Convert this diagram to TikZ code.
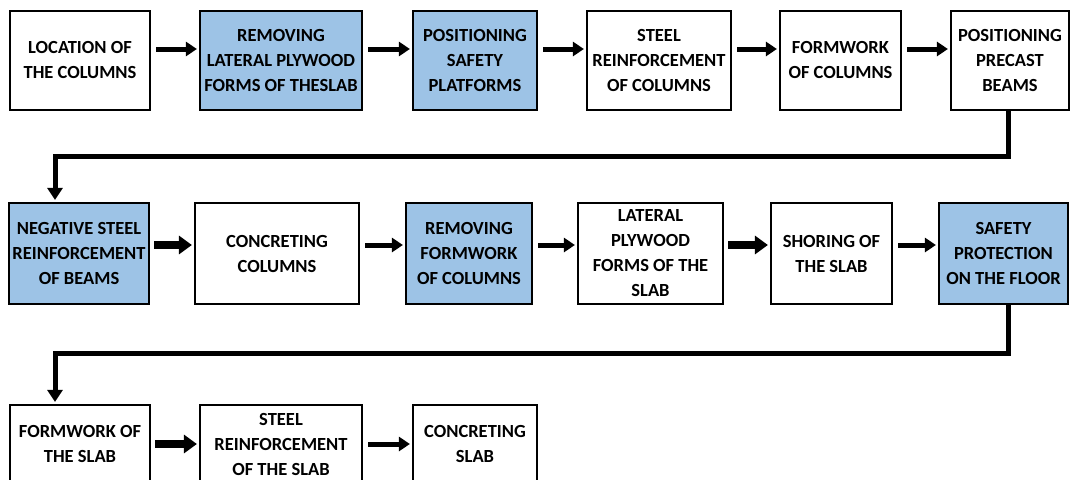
\documentclass[tikz,border=0pt]{standalone}
\usepackage{fontspec}
\setmainfont{Carlito}
\usetikzlibrary{arrows.meta}
\definecolor{boxblue}{RGB}{157,195,230}
\begin{document}
\begin{tikzpicture}[x=1pt,y=-1pt,
  box/.style={draw, line width=2.2pt, align=center, inner sep=0pt,
    font=\bfseries\fontsize{18.5}{25}\selectfont, text=black},
  hl/.style={fill=boxblue},
  arr/.style={line width=5pt, -{Triangle[width=14pt,length=11pt]}, shorten <=5pt, shorten >=2pt},
  arrthick/.style={line width=8pt, -{Triangle[width=18pt,length=13pt]}, shorten <=4pt, shorten >=2pt},
  wrap/.style={line width=5pt, line join=miter, -{Triangle[width=15pt,length=12pt]}, shorten >=2pt}
]
\useasboundingbox (0,0) rectangle (1073,479);
\clip (0,0) rectangle (1073,479);
% row 1
\node[box, minimum width=140pt, minimum height=99pt] (b1) at (80,60.5) {LOCATION OF\\THE COLUMNS};
\node[box, hl, minimum width=162pt, minimum height=99pt] (b2) at (281,60.5) {REMOVING\\LATERAL PLYWOOD\\FORMS OF THESLAB};
\node[box, hl, minimum width=124pt, minimum height=99pt] (b3) at (475,60.5) {POSITIONING\\SAFETY\\PLATFORMS};
\node[box, minimum width=144pt, minimum height=99pt] (b4) at (659,60.5) {STEEL\\REINFORCEMENT\\OF COLUMNS};
\node[box, minimum width=121pt, minimum height=99pt] (b5) at (840.5,60.5) {FORMWORK\\OF COLUMNS};
\node[box, minimum width=118pt, minimum height=99pt] (b6) at (1010,60.5) {POSITIONING\\PRECAST\\BEAMS};
% row 2
\node[box, hl, minimum width=140pt, minimum height=101pt] (b7) at (79,253.5) {NEGATIVE STEEL\\REINFORCEMENT\\OF BEAMS};
\node[box, minimum width=164pt, minimum height=101pt] (b8) at (277,253.5) {CONCRETING\\COLUMNS};
\node[box, hl, minimum width=126pt, minimum height=101pt] (b9) at (469,253.5) {REMOVING\\FORMWORK\\OF COLUMNS};
\node[box, minimum width=145pt, minimum height=101pt] (b10) at (650.5,253.5) {LATERAL\\PLYWOOD\\FORMS OF THE\\SLAB};
\node[box, minimum width=121pt, minimum height=101pt] (b11) at (831.5,253.5) {SHORING OF\\THE SLAB};
\node[box, hl, minimum width=129pt, minimum height=101pt] (b12) at (1003.5,253.5) {SAFETY\\PROTECTION\\ON THE FLOOR};
% row 3
\node[box, minimum width=140pt, minimum height=78pt] (b13) at (80,444) {FORMWORK OF\\THE SLAB};
\node[box, minimum width=162pt, minimum height=78pt] (b14) at (281,444) {STEEL\\REINFORCEMENT\\OF THE SLAB};
\node[box, minimum width=124pt, minimum height=78pt] (b15) at (475,444) {CONCRETING\\SLAB};
% row 1 arrows
\draw[arr] ([yshift=11.5pt]b1.east) -- ([yshift=11.5pt]b2.west);
\draw[arr] ([yshift=11.5pt]b2.east) -- ([yshift=11.5pt]b3.west);
\draw[arr] ([yshift=11.5pt]b3.east) -- ([yshift=11.5pt]b4.west);
\draw[arr] ([yshift=11.5pt]b4.east) -- ([yshift=11.5pt]b5.west);
\draw[arr] ([yshift=11.5pt]b5.east) -- ([yshift=11.5pt]b6.west);
% row 2 arrows
\draw[arrthick] ([yshift=8.5pt]b7.east) -- ([yshift=8.5pt]b8.west);
\draw[arr] ([yshift=8.5pt]b8.east) -- ([yshift=8.5pt]b9.west);
\draw[arr] ([yshift=8.5pt]b9.east) -- ([yshift=8.5pt]b10.west);
\draw[arrthick] ([yshift=8.5pt]b10.east) -- ([yshift=8.5pt]b11.west);
\draw[arr] ([yshift=8.5pt]b11.east) -- ([yshift=8.5pt]b12.west);
% row 3 arrows
\draw[arrthick] (b13.east) -- (b14.west);
\draw[arr] (b14.east) -- (b15.west);
% wrap connectors
\coordinate (t1) at (55,156);
\draw[wrap] ([xshift=-2pt]b6.south) |- (t1) -- (t1 |- b7.north);
\coordinate (t2) at (55,353);
\draw[wrap] ([xshift=4.5pt]b12.south) |- (t2) -- (t2 |- b13.north);
\end{tikzpicture}
\end{document}
